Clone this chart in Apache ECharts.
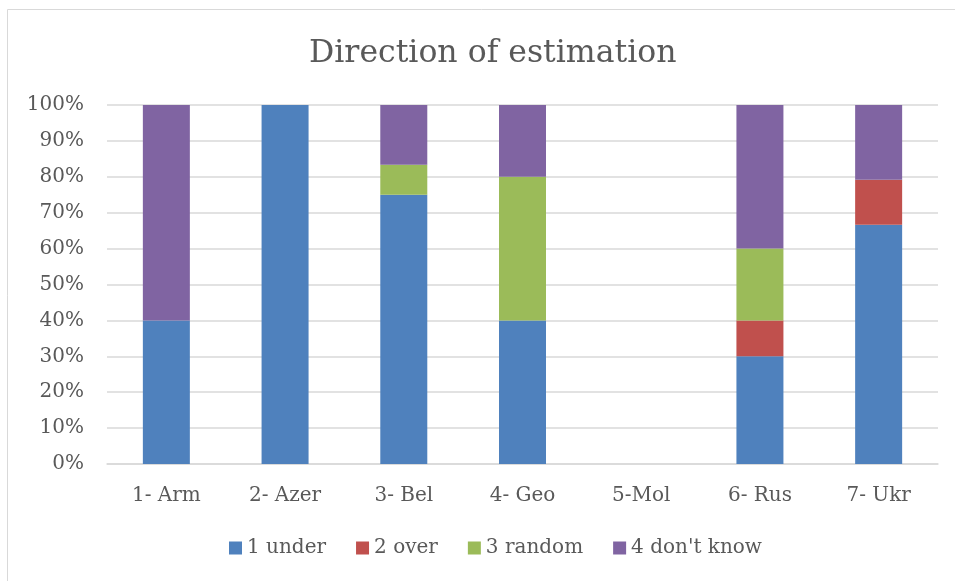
<!DOCTYPE html>
<html>
<head>
<meta charset="utf-8">
<script src="https://cdn.jsdelivr.net/npm/echarts@6/dist/echarts.min.js"></script>
<style>
    html, body { margin: 0; padding: 0; background: #fff; }
    #main { width: 955px; height: 581px; }
</style>
</head>
<body>
<div id="main"></div>
<script>
    var categories = ['1- Arm', '2- Azer', '3- Bel', '4- Geo', '5-Mol', '6- Rus', '7- Ukr'];
    var under = [40, 100, 75, 40, 0, 30, 66.67];
    var over = [0, 0, 0, 0, 0, 10, 12.5];
    var random = [0, 0, 8.33, 40, 0, 20, 0];
    var dontKnow = [60, 0, 16.67, 20, 0, 40, 20.83];

    var font = 'DejaVu Serif';
    var textColor = '#595959';

    var myChart = echarts.init(document.getElementById('main'));

    function bar(name, data, color) {
        return {
            name: name,
            type: 'bar',
            stack: 'total',
            barWidth: 47,
            itemStyle: { color: color },
            data: data
        };
    }

    var option = {
        animation: false,
        title: {
            text: 'Direction of estimation',
            // chart box is wider than the window, so centre is offset
            left: 304,
            top: 33,
            textStyle: { fontFamily: font, fontSize: 31.5, fontWeight: 'normal', color: textColor }
        },
        graphic: [{
            type: 'rect',
            shape: { x: 7.5, y: 9.5, width: 1000, height: 1000 },
            style: { fill: 'none', stroke: '#d9d9d9', lineWidth: 1 }
        }],
        legend: {
            bottom: 18,
            left: 224,
            itemWidth: 13,
            itemHeight: 13,
            itemGap: 30,
            icon: 'rect',
            textStyle: { fontFamily: font, fontSize: 20, color: textColor },
            data: ['1 under', '2 over', '3 random', "4 don't know"]
        },
        grid: {
            left: 107,
            right: 17,
            top: 105,
            bottom: 117
        },
        xAxis: {
            type: 'category',
            data: categories,
            axisTick: { show: false },
            axisLine: { lineStyle: { color: '#d9d9d9', width: 1.5 } },
            axisLabel: { fontFamily: font, fontSize: 20, color: textColor, margin: 22 }
        },
        yAxis: {
            type: 'value',
            min: 0,
            max: 100,
            interval: 10,
            axisLine: { show: false },
            axisTick: { show: false },
            splitLine: { lineStyle: { color: '#d9d9d9', width: 1.5 } },
            axisLabel: { fontFamily: font, fontSize: 20, color: textColor, margin: 23, formatter: '{value}%' }
        },
        series: [
            bar('1 under', under, '#4F81BD'),
            bar('2 over', over, '#C0504D'),
            bar('3 random', random, '#9BBB59'),
            bar("4 don't know", dontKnow, '#8064A2')
        ]
    };

    option && myChart.setOption(option);
</script>
</body>
</html>
